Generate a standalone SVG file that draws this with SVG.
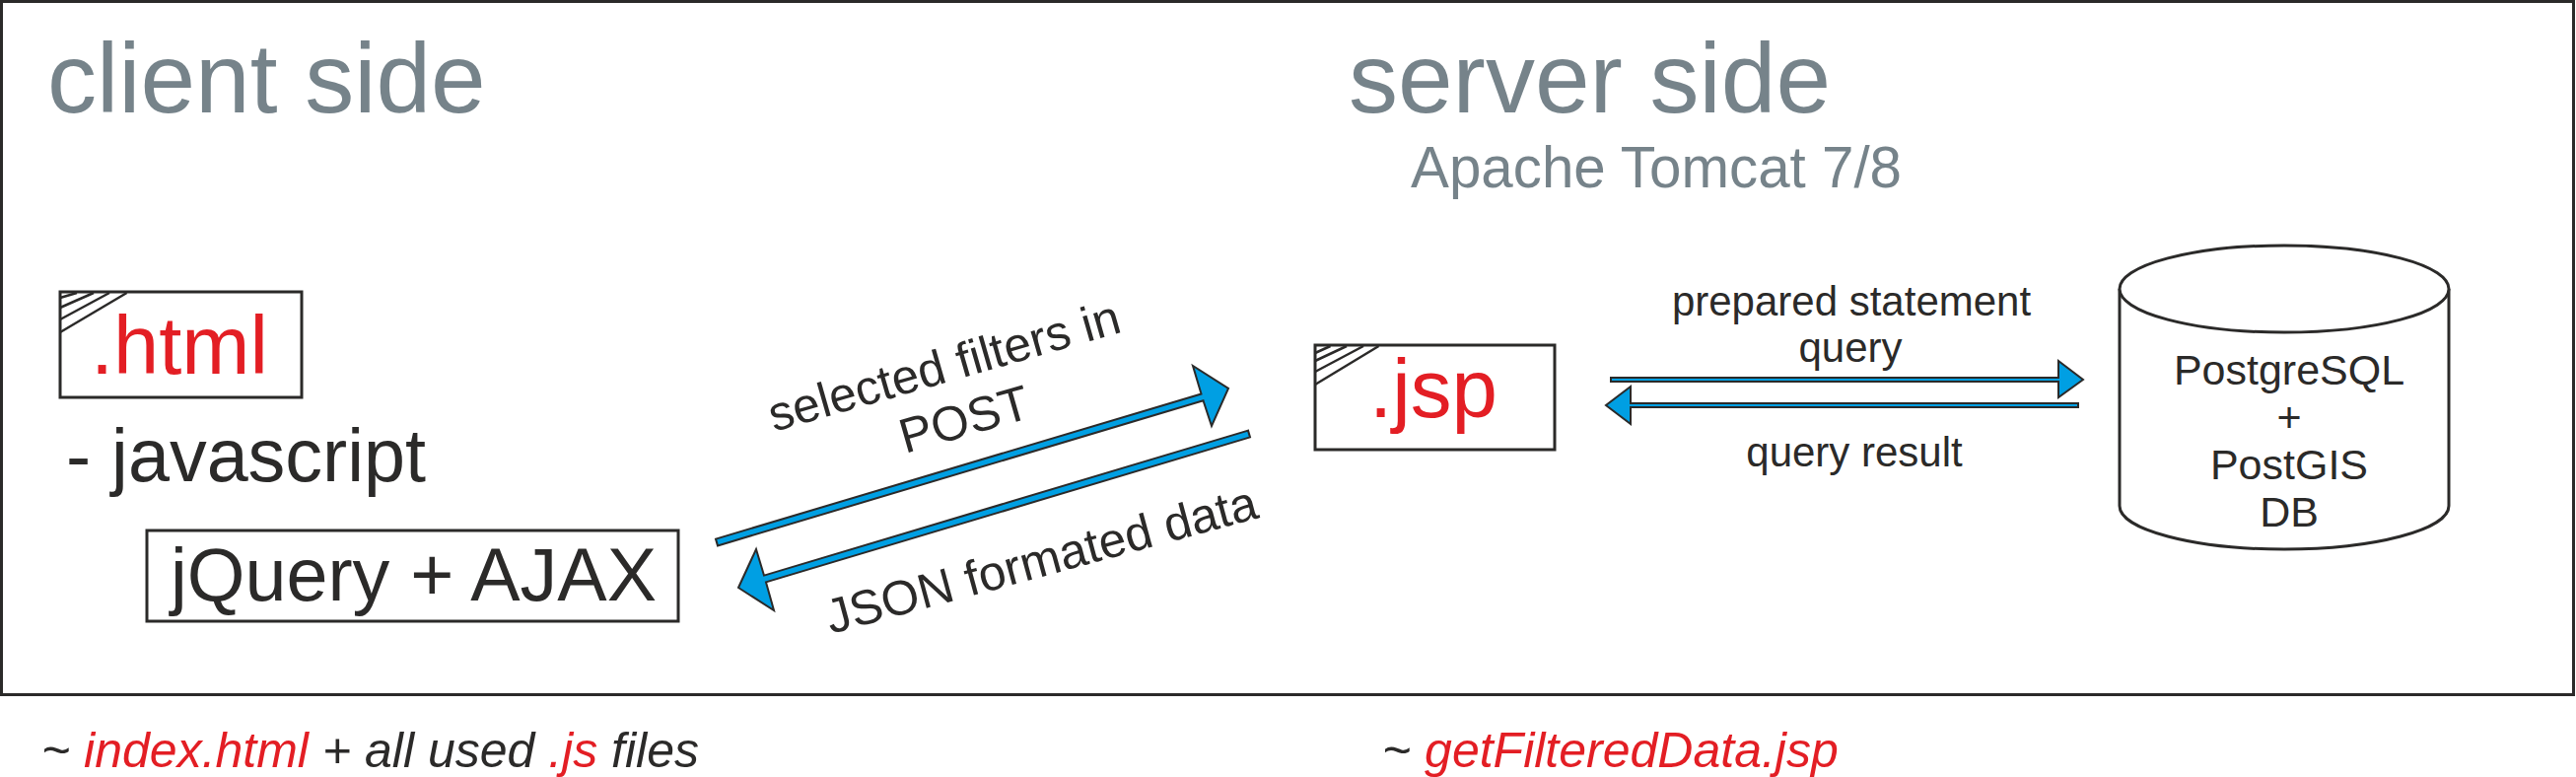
<svg xmlns="http://www.w3.org/2000/svg" width="2613" height="788" viewBox="0 0 2613 788">
<style>
text{font-family:"Liberation Sans",Arial,sans-serif;fill:#2b2a29}
.grey{fill:#76838a}
.red{fill:#e31e24}
.box{fill:#fff;stroke:#2b2a29;stroke-width:3}
.hatch{fill:none;stroke:#2b2a29;stroke-width:2.5}
.arrow{fill:#009fe3;stroke:#2b2a29;stroke-width:2;stroke-linejoin:miter}
.arrowh{fill:#009fe3;stroke:#2b2a29;stroke-width:2;stroke-linejoin:miter}
.m{text-anchor:middle}
</style>
<rect width="2613" height="788" fill="#fff"/>
<rect id="frame" class="box" x="1.5" y="1.5" width="2609" height="703"/>
<g id="labels-heading">
<text class="grey" x="48" y="113.5" font-size="100">client side</text>
<text class="grey" x="1368" y="113.5" font-size="100">server side</text>
<text class="grey" x="1431" y="190" font-size="58.3">Apache Tomcat 7/8</text>
</g>
<g id="node-html">
<rect class="box" x="61" y="296" width="245" height="107"/>
<path class="hatch" d="M128.6 297L61 337M111 297L61 324M95 297L61 312M78 297L61 302"/>
<text class="red" x="92" y="379" font-size="83">.html</text>
</g>
<g id="node-javascript">
<text x="67" y="488" font-size="75.5">- javascript</text>
</g>
<g id="node-jquery">
<rect class="box" x="149" y="538" width="539" height="92"/>
<text x="173" y="609" font-size="75.5">jQuery + AJAX</text>
</g>
<g id="node-jsp">
<rect class="box" x="1334" y="350" width="243" height="106"/>
<path class="hatch" d="M1398.5 351L1334 390M1383 351L1334 377M1366 351L1334 366M1349.5 351L1334 358"/>
<text class="red" x="1389" y="423" font-size="83.5">.jsp</text>
</g>
<g id="node-db">
<path class="box" d="M2150 293V513C2150 537 2225 557 2317 557S2484 537 2484 513V293"/>
<ellipse class="box" cx="2317" cy="293" rx="167" ry="44"/>
<g class="m" font-size="43">
<text x="2322" y="390">PostgreSQL</text>
<text x="2322" y="438">+</text>
<text x="2322" y="486">PostGIS</text>
<text x="2322" y="534">DB</text>
</g>
</g>
<g id="connectors">
<path class="arrow" d="M726 546.6L1218.5 399.5L1210 371L1246 394L1229 432L1220.5 406.3L728 553.4Z"/>
<path class="arrow" d="M1266 436.6L775 583.6L767 557L749 596L785 619L777 590.4L1268 443.4Z"/>
<path class="arrowh" d="M1634 383H2088V366L2113 385L2088 403V387H1634Z"/>
<path class="arrowh" d="M2108 409H1654V392L1629 411L1654 430V413H2108Z"/>
</g>
<g id="connector-labels">
<text font-size="49.5" transform="translate(785 438) rotate(-16)">selected filters in</text>
<text font-size="49.5" transform="translate(918 460) rotate(-16)">POST</text>
<text font-size="49.5" transform="translate(843 643) rotate(-15.2)">JSON formated data</text>
<text class="m" x="1878" y="320" font-size="42">prepared statement</text>
<text class="m" x="1877" y="367" font-size="42">query</text>
<text class="m" x="1881" y="473" font-size="42">query result</text>
</g>
<g id="notes" font-size="50" font-style="italic">
<text x="42" y="778">~ <tspan class="red">index.html</tspan> + all used <tspan class="red">.js</tspan> files</text>
<text x="1402" y="778">~ <tspan class="red">getFilteredData.jsp</tspan></text>
</g>
</svg>
